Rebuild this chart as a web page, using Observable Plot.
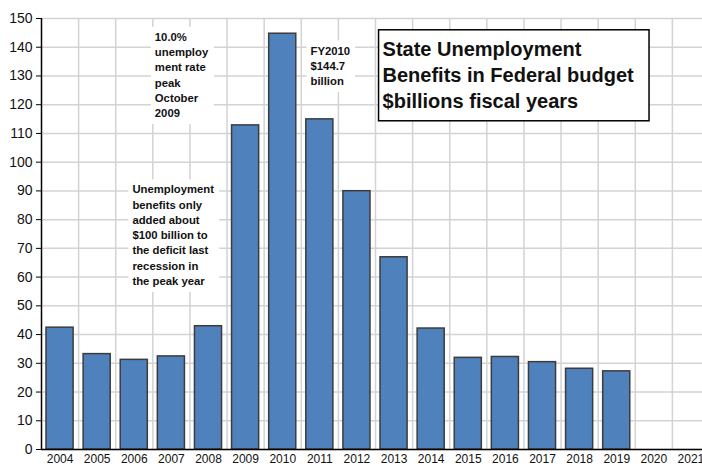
<!DOCTYPE html>
<html>
<head>
<meta charset="utf-8">
<script src="https://cdn.jsdelivr.net/npm/d3@7"></script>
<script src="https://cdn.jsdelivr.net/npm/@observablehq/plot@0.6"></script>
<style>
  html, body { margin: 0; padding: 0; background: white; }
</style>
</head>
<body>
<script>
// ---- data ----
const years = [2004, 2005, 2006, 2007, 2008, 2009, 2010, 2011, 2012, 2013, 2014, 2015, 2016, 2017, 2018, 2019, 2020, 2021];
const benefits = [42.4, 33.2, 31.2, 32.4, 42.9, 112.8, 144.7, 114.9, 89.9, 66.9, 42.1, 31.9, 32.2, 30.4, 28.1, 27.2];
const yTicks = [0, 10, 20, 30, 40, 50, 60, 70, 80, 90, 100, 110, 120, 130, 140, 150];
const titleText = "State Unemployment\nBenefits in Federal budget\n$billions fiscal years";
const notePeak = "10.0%\nunemploy\nment rate\npeak\nOctober\n2009";
const noteDeficit = "Unemployment\nbenefits only\nadded about\n$100 billion to\nthe deficit last\nrecession in\nthe peak year";
const noteFY = "FY2010\n$144.7\nbillion";

const data = benefits.map((v, i) => ({year: years[i], value: v}));

const font = "'Liberation Sans', Arial, sans-serif";
const noteOpts = {textAnchor: "start", lineAnchor: "top", lineHeight: 1.35, fontSize: 11.3,
  fontWeight: "bold", fill: "#111", text: d => d};

const chart = Plot.plot({
  width: 702, height: 466,
  marginLeft: 41, marginRight: 0, marginTop: 18, marginBottom: 17,
  style: {fontFamily: font, background: "white", color: "black"},
  x: {domain: [2003.5, 2021.5], range: [41, 709]},
  y: {domain: [0, 150], label: null},
  marks: [
    Plot.gridY(yTicks, {stroke: "#d3d3d3", strokeOpacity: 1, strokeWidth: 1.5}),
    Plot.ruleX(years, {x: d => d + 0.5, stroke: "#d3d3d3", strokeWidth: 1.5}),
    Plot.rectY(data, {x1: d => d.year - 0.365, x2: d => d.year + 0.365, y: "value",
      fill: "#4F81BD", stroke: "#3c3c3c", strokeWidth: 1.5}),
    Plot.ruleY([0], {stroke: "black", strokeWidth: 1.5}),
    Plot.ruleX([2003.5], {stroke: "black", strokeWidth: 1.5}),
    Plot.axisY(yTicks, {tickSize: 5, tickPadding: 4, fontSize: 14, label: null, fill: "#111"}),
    Plot.axisX(years, {tickSize: 0, tickPadding: 5, fontSize: 12, label: null,
      tickFormat: d => String(d), fill: "#111"}),
    Plot.text([notePeak], {...noteOpts, x: () => 2006.5, y: () => 146, dx: 2}),
    Plot.text([noteDeficit], {...noteOpts, x: () => 2005.95, y: () => 92.9}),
    Plot.text([noteFY], {...noteOpts, x: () => 2010.75, y: () => 141.2}),
    Plot.text([titleText], {x: () => 2012.69, y: () => 143.45, text: d => d, textAnchor: "start",
      lineAnchor: "top", lineHeight: 1.3, fontSize: 20, fontWeight: "bold", fill: "#111"})
  ]
});
document.body.appendChild(chart);

function addBox(t, pad, fill, stroke, sw) {
  const b = t.getBBox();
  const r = document.createElementNS("http://www.w3.org/2000/svg", "rect");
  r.setAttribute("x", b.x - pad[0]);
  r.setAttribute("y", b.y - pad[1]);
  r.setAttribute("width", b.width + pad[0] + pad[2]);
  r.setAttribute("height", b.height + pad[1] + pad[3]);
  r.setAttribute("fill", fill);
  r.setAttribute("stroke", stroke);
  r.setAttribute("stroke-width", sw);
  const tr = t.getAttribute("transform");
  if (tr) r.setAttribute("transform", tr);
  t.parentNode.insertBefore(r, t);
}
const texts = Array.from(chart.querySelectorAll('g[aria-label="text"] text'));
texts.forEach(t => {
  if (t.textContent.startsWith("State")) addBox(t, [4, 8, 15, 9], "white", "black", 1.5);
  else addBox(t, [4, 4, 5, 5], "white", "none", 0);
});
</script>
</body>
</html>
